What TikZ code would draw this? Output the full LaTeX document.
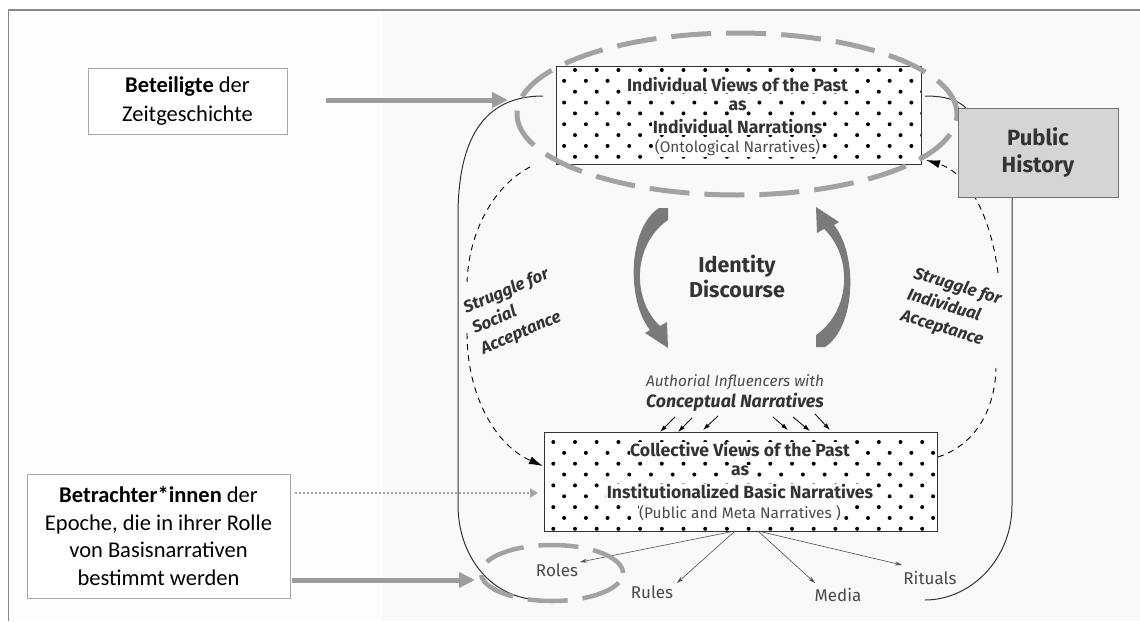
\documentclass[tikz,border=0pt]{standalone}
\usepackage{fontspec}
\setmainfont{Fira Sans}
\newfontfamily\calibri{Carlito}
\usetikzlibrary{arrows.meta}

\definecolor{ink}{HTML}{333333}
\definecolor{softink}{HTML}{4A4A4A}
\definecolor{frameline}{HTML}{8A8A8A}
\definecolor{thickarrow}{HTML}{9C9C9C}
\definecolor{ringgray}{HTML}{A2A2A2}
\definecolor{bendgray}{HTML}{7A7A7A}
\definecolor{phfill}{HTML}{D5D5D5}
\definecolor{leftbg}{HTML}{FDFDFD}
\definecolor{rightbg}{HTML}{F9F9F9}

\newcommand{\fsz}[2]{\fontsize{#1}{#2}\selectfont}

\tikzset{
  sidebox/.style={draw=black!35, fill=white, line width=0.8pt, align=center,
    font=\calibri\fsz{22.5}{29}, text=black, inner sep=0pt},
  dotbox/.style={draw=ink, line width=0.8pt, inner sep=0pt},
  boxline/.style={fill=white, inner sep=0.6pt, text=ink, font=\bfseries\fsz{17.6}{19}},
  boxnote/.style={fill=white, inner sep=0.6pt, text=softink, font=\fsz{15.4}{17}},
  phbox/.style={draw=black!55, fill=phfill, line width=0.8pt, minimum width=160pt,
    minimum height=89pt, align=center, font=\bfseries\fsz{22}{27}, text=ink},
  feed/.style={draw=thickarrow, line width=5pt, -{Triangle[length=16pt,width=15pt]}},
  peek/.style={draw=black!35, line width=2pt, dash pattern=on 2pt off 2pt,
    -{Triangle[length=8pt,width=9pt]}},
  ring/.style={draw=ringgray, line width=5pt, dash pattern=on 40pt off 15pt},
  cycleline/.style={draw=ink, line width=1pt},
  struggle/.style={draw=black, line width=0.9pt, dash pattern=on 6pt off 5pt},
  strugglehead/.style={-{Latex[length=14pt,width=8pt]}},
  slanttext/.style={text=ink, font=\bfseries\itshape\fsz{16.8}{22}, align=left, inner sep=0pt},
  influx/.style={draw=black, line width=0.8pt, -{Latex[length=7pt,width=4.5pt]}},
  spread/.style={draw=black!70, line width=0.6pt, -{Stealth[length=7pt,width=4pt]}},
  outlet/.style={text=softink, font=\fsz{17}{20}, inner sep=1pt},
}

% staggered dot grid, clipped to the named box
\newcommand{\dotgrid}[2]{%
  \begin{scope}
    \clip (#1.south west) rectangle (#1.north east);
    \foreach \r in {0,...,8} {
      \pgfmathsetmacro\yy{#2+10.85*\r}
      \pgfmathsetmacro\xs{553.3+10.85*mod(\r,2)}
      \foreach \c in {0,...,18} {
        \fill[black] ({\xs+21.7*\c},\yy) circle (2pt);
      }
    }
  \end{scope}}

\begin{document}
\begin{tikzpicture}[x=1pt,y=-1pt]
  \useasboundingbox (0,0) rectangle (1140,621);

  % backdrop and frame
  \fill[white] (0,0) rectangle (1140,621);
  \fill[leftbg] (8.5,10) rectangle (1140,621);
  \fill[rightbg] (383,11) rectangle (1140,621);
  \draw[frameline, line width=1.5pt] (1140,10) -- (8.5,10) -- (8.5,621);

  % closed cycle of the narrative system
  \coordinate (cycTL) at (543,96);
  \coordinate (cycBL) at (543,600);
  \coordinate (cycBR) at (925,600);
  \coordinate (cycTR) at (925,96);
  \draw[cycleline] (cycTL) .. controls (490,96) and (458,130) .. (458,216)
    -- (458,505) .. controls (458,555) and (490,600) .. (cycBL);
  \draw[cycleline] (cycBR) .. controls (970,600) and (1012,560) .. (1012,505)
    -- (1012,197);
  \draw[cycleline] (cycTR) .. controls (945,96) and (958,100) .. (966,108);

  % struggle connectors
  \coordinate (sL1) at (530,167);
  \coordinate (sL2) at (467,282);
  \coordinate (sL3) at (467,333);
  \coordinate (sL4) at (543,466);
  \draw[struggle] (sL1) .. controls (495,185) and (469,230) .. (sL2);
  \draw[struggle, strugglehead] (sL3) .. controls (467,395) and (495,445) .. (sL4);

  \coordinate (sR1) at (938,457);
  \coordinate (sR2) at (996,368);
  \coordinate (sR3) at (998,273);
  \coordinate (sR4) at (926,160);
  \draw[struggle] (sR1) .. controls (975,445) and (995,410) .. (sR2);
  \draw[struggle, strugglehead] (sR3) .. controls (990,210) and (965,172) .. (sR4);

  % individual views box
  \node[dotbox, fill=white, minimum width=365pt, minimum height=98pt] (past) at (738.5,115) {};
  \dotgrid{past}{70}
  \node[boxline] (pastA) at (737.5,85) {Individual Views of the Past};
  \node[boxline] (pastB) at (737.5,106) {as};
  \node[boxline] (pastC) at (737.5,127) {Individual Narrations};
  \node[boxnote] (pastD) at (737.5,148) {(Ontological Narratives)};
  \node[dotbox, minimum width=365pt, minimum height=98pt] at (past) {};

  % collective views box
  \node[dotbox, fill=white, minimum width=393pt, minimum height=99pt] (coll) at (740.5,481.5) {};
  \dotgrid{coll}{442}
  \node[boxline] (collA) at (740,450) {Collective Views of the Past};
  \node[boxline] (collB) at (740,471) {as};
  \node[boxline] (collC) at (740,492) {Institutionalized Basic Narratives};
  \node[boxnote] (collD) at (740,513) {(Public and Meta Narratives )};
  \node[dotbox, minimum width=393pt, minimum height=99pt] at (coll) {};

  % struggle labels
  \node[slanttext, rotate=23] (socacc) at (515,312) {Struggle for\\Social\\Acceptance};
  \node[slanttext, rotate=-17] (indacc) at (951,308) {Struggle for\\Individual\\Acceptance};

  % identity discourse with its two bent arrows
  \node[font=\bfseries\fsz{21.5}{25}, text=ink, align=center] (idd) at (737,276) {Identity\\Discourse};
  \fill[bendgray] (659,208) .. controls (628,228) and (626,300) .. (650,330)
    -- (645,333) -- (668,348) -- (667,322) -- (660,326)
    .. controls (632,300) and (632,245) .. (668,220) -- (668,208) -- cycle;
  \fill[bendgray, rotate around={180:(742,277.5)}] (659,208) .. controls (628,228) and (626,300) .. (650,330)
    -- (645,333) -- (668,348) -- (667,322) -- (660,326)
    .. controls (632,300) and (632,245) .. (668,220) -- (668,208) -- cycle;

  % authorial influencers
  \node[font=\itshape\fsz{15.4}{18}, text=softink] (auth) at (735,382) {Authorial Influencers with};
  \node[font=\bfseries\itshape\fsz{17.8}{20}, text=ink] (concept) at (735,402) {Conceptual Narratives};
  \foreach \a/\b/\c/\d in {675/417/660/432, 692/418/678/432, 718/416/703/430,
                           773/417/788/430, 793/417/810/431, 815/414/830/430} {
    \draw[influx] (\a,\b) -- (\c,\d);
  }

  % outlets of the basic narratives
  \node[outlet] (roles) at (557,570) {Roles};
  \node[outlet] (rules) at (652,592) {Rules};
  \node[outlet] (media) at (838,595) {Media};
  \node[outlet] (rituals) at (930,578) {Rituals};
  \coordinate (collL) at (735,531);
  \coordinate (collR) at (758,531);
  \draw[spread] (collL) -- (580,562);
  \draw[spread] (collL) -- (677,583);
  \draw[spread] (collR) -- (815,583);
  \draw[spread] (collR) -- (902,565);

  % highlight rings
  \draw[ring] (737,114) ellipse [x radius=220pt, y radius=81pt];
  \draw[ring, line width=4.5pt] (552,573) ellipse [x radius=71pt, y radius=28pt];

  % public history
  \node[phbox] (ph) at (1038,152.5) {Public\\History};

  % side boxes and their arrows
  \node[sidebox, minimum width=199pt, minimum height=66pt] (zeit) at (187.5,101)
    {\textbf{Beteiligte} der\\Zeitgeschichte};
  \node[sidebox, font=\calibri\fsz{22.5}{27.5}, minimum width=263pt, minimum height=124pt] (betr) at (158.5,536)
    {\textbf{Betrachter*innen} der\\Epoche, die in ihrer Rolle\\von Basisnarrativen\\bestimmt werden};

  \coordinate (zeitOut) at (326,100);
  \coordinate (pastIn) at (508,100);
  \draw[feed] (zeitOut) -- (pastIn);
  \coordinate (betrDot) at (295,493);
  \coordinate (collIn) at (538,493);
  \draw[peek] (betrDot) -- (collIn);
  \coordinate (betrOut) at (292,580);
  \coordinate (rolesIn) at (475,580);
  \draw[feed] (betrOut) -- (rolesIn);
\end{tikzpicture}
\end{document}
